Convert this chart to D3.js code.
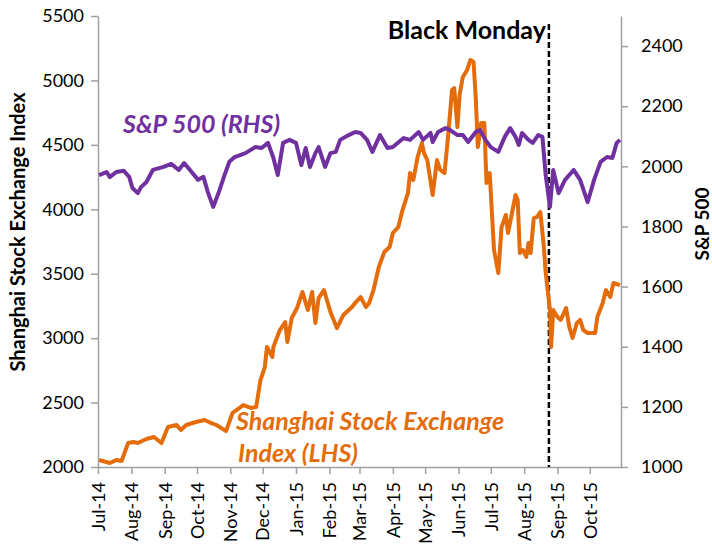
<!DOCTYPE html>
<html>
<head>
<meta charset="utf-8">
<script src="https://cdn.jsdelivr.net/npm/d3@7"></script>
<style>
  body { margin: 0; background: #fff; }
  text { font-family: Lato, "Noto Sans", sans-serif; }
</style>
</head>
<body>
<svg id="chart" width="712" height="545"></svg>
<script>
// S&P 500 (right axis)
const spDates = ["2014-07-02","2014-07-09","2014-07-12","2014-07-18","2014-07-25","2014-07-30","2014-08-02","2014-08-07",
  "2014-08-10","2014-08-15","2014-08-21","2014-08-31","2014-09-07","2014-09-14","2014-09-19","2014-09-26","2014-10-02",
  "2014-10-07","2014-10-11","2014-10-16","2014-10-21","2014-10-26","2014-10-31","2014-11-05","2014-11-15","2014-11-24",
  "2014-11-30","2014-12-06","2014-12-11","2014-12-15","2014-12-20","2014-12-26","2015-01-01","2015-01-06","2015-01-10",
  "2015-01-14","2015-01-19","2015-01-22","2015-01-28","2015-02-02","2015-02-07","2015-02-11","2015-02-19","2015-02-25",
  "2015-03-02","2015-03-08","2015-03-13","2015-03-20","2015-03-27","2015-04-01","2015-04-11","2015-04-17","2015-04-25",
  "2015-04-29","2015-05-06","2015-05-08","2015-05-13","2015-05-20","2015-05-24","2015-05-31","2015-06-05","2015-06-10",
  "2015-06-17","2015-06-21","2015-06-26","2015-07-01","2015-07-08","2015-07-14","2015-07-19","2015-07-24","2015-07-27",
  "2015-07-30","2015-08-05","2015-08-09","2015-08-14","2015-08-18","2015-08-21","2015-08-25","2015-08-28","2015-09-02",
  "2015-09-08","2015-09-16","2015-09-22","2015-09-29","2015-10-05","2015-10-11","2015-10-17","2015-10-22","2015-10-26",
  "2015-10-29"];
const spValues = [1971,1981,1964,1981,1985,1965,1928,1911,
  1931,1948,1988,1998,2008,1988,2011,1981,1955,
  1965,1915,1865,1911,1965,2015,2031,2044,2064,
  2061,2078,2028,1971,2078,2088,2078,2004,2061,
  1998,2044,2064,1998,2044,2048,2088,2104,2114,
  2111,2088,2048,2104,2061,2064,2094,2088,2114,
  2088,2111,2081,2114,2127,2121,2104,2104,2081,
  2114,2121,2088,2064,2048,2098,2127,2098,2071,
  2111,2088,2078,2104,2098,1971,1865,1988,1911,
  1955,1988,1955,1881,1955,2015,2031,2028,2078,
  2088];

// Shanghai Stock Exchange Index (left axis)
const shDates = ["2014-07-02","2014-07-12","2014-07-18","2014-07-23","2014-07-29","2014-08-03","2014-08-07","2014-08-15",
  "2014-08-22","2014-08-29","2014-09-04","2014-09-12","2014-09-16","2014-09-21","2014-09-30","2014-10-08","2014-10-12",
  "2014-10-19","2014-10-28","2014-11-03","2014-11-13","2014-11-20","2014-11-25","2014-11-29","2014-12-03","2014-12-05",
  "2014-12-10","2014-12-11","2014-12-17","2014-12-22","2014-12-24","2014-12-28","2015-01-02","2015-01-07","2015-01-12",
  "2015-01-16","2015-01-19","2015-01-22","2015-01-27","2015-02-02","2015-02-08","2015-02-14","2015-02-22","2015-02-25",
  "2015-03-02","2015-03-07","2015-03-10","2015-03-14","2015-03-19","2015-03-24","2015-03-29","2015-04-01","2015-04-06",
  "2015-04-10","2015-04-15","2015-04-17","2015-04-20","2015-04-24","2015-04-28","2015-04-30","2015-05-03","2015-05-08",
  "2015-05-12","2015-05-15","2015-05-19","2015-05-22","2015-05-26","2015-05-28","2015-05-31","2015-06-02","2015-06-05",
  "2015-06-09","2015-06-12","2015-06-15","2015-06-17","2015-06-19","2015-06-22","2015-06-25","2015-06-27","2015-06-30",
  "2015-07-04","2015-07-08","2015-07-11","2015-07-15","2015-07-17","2015-07-20","2015-07-24","2015-07-26","2015-07-28",
  "2015-07-31","2015-08-03","2015-08-05","2015-08-07","2015-08-10","2015-08-13","2015-08-16","2015-08-19","2015-08-21",
  "2015-08-25","2015-08-26","2015-08-28","2015-09-01","2015-09-04","2015-09-09","2015-09-12","2015-09-15","2015-09-19",
  "2015-09-22","2015-09-25","2015-09-29","2015-10-06","2015-10-08","2015-10-13","2015-10-16","2015-10-20","2015-10-23",
  "2015-10-29"];
const shValues = [2054,2031,2054,2047,2186,2194,2186,2217,
  2233,2186,2310,2326,2287,2326,2349,2365,2349,
  2326,2279,2419,2481,2458,2466,2675,2776,2931,
  2854,2931,3063,3125,2970,3156,3234,3358,3218,
  3358,3117,3311,3373,3203,3078,3179,3241,3273,
  3319,3241,3273,3373,3552,3668,3707,3816,3862,
  3994,4126,4281,4227,4405,4514,4436,4382,4111,
  4382,4305,4281,4538,4926,4941,4638,4887,5027,
  5081,5158,5143,4871,4483,4669,4669,4204,4281,
  3684,3505,3862,3956,3816,3940,4111,4072,3661,
  3684,3630,3738,3661,3932,3940,3979,3738,3513,
  3218,2931,3218,3164,3141,3234,3086,3001,3117,
  3141,3063,3040,3040,3164,3273,3373,3319,3428,
  3412];

const leftTicks = [2000, 2500, 3000, 3500, 4000, 4500, 5000, 5500];
const rightTicks = [1000, 1200, 1400, 1600, 1800, 2000, 2200, 2400];
const monthTicks = ["2014-07-01","2014-08-01","2014-09-01","2014-10-01","2014-11-01","2014-12-01","2015-01-01",
  "2015-02-01","2015-03-01","2015-04-01","2015-05-01","2015-06-01","2015-07-01","2015-08-01","2015-09-01","2015-10-01"];
const blackMonday = "2015-08-24";

const parse = d3.timeParse("%Y-%m-%d");
const svg = d3.select("#chart");

const plotLeft = 98, plotRight = 621, plotTop = 16, plotBottom = 467;
const axisColor = "#a0a0a0";

const x = d3.scaleTime()
  .domain([parse("2014-07-01"), parse("2015-10-30")])
  .range([plotLeft, plotRight]);
const yL = d3.scaleLinear().domain([2000, 5500]).range([plotBottom, plotTop]);
const yR = d3.scaleLinear().domain([1000, 2500]).range([plotBottom, plotTop]);

function styleAxis(g) {
  g.select(".domain").attr("stroke", axisColor).attr("stroke-width", 1.5);
  g.selectAll(".tick line").attr("stroke", axisColor).attr("stroke-width", 1.5);
  g.selectAll(".tick text").attr("fill", "#000").style("font-size", "18px")
    .style("font-family", "Lato, sans-serif");
}

// left axis
svg.append("g")
  .attr("transform", "translate(" + plotLeft + ",0)")
  .call(d3.axisLeft(yL).tickValues(leftTicks).tickFormat(d3.format("d"))
    .tickSize(7).tickSizeOuter(0).tickPadding(7))
  .call(styleAxis);

// right axis
svg.append("g")
  .attr("transform", "translate(" + plotRight + ",0)")
  .call(d3.axisRight(yR).tickValues(rightTicks).tickFormat(d3.format("d"))
    .tickSize(7).tickSizeOuter(0).tickPadding(13))
  .call(styleAxis);

// bottom axis
const xAxis = svg.append("g")
  .attr("transform", "translate(0," + plotBottom + ")")
  .call(d3.axisBottom(x).tickValues(monthTicks.map(parse))
    .tickFormat(d3.timeFormat("%b-%y")).tickSize(7).tickSizeOuter(0))
  .call(styleAxis);
xAxis.selectAll(".tick text")
  .attr("transform", "rotate(-90)")
  .attr("x", -15)
  .attr("y", 0)
  .attr("dy", "0.35em")
  .attr("text-anchor", "end");

// axis titles
svg.append("text")
  .attr("transform", "translate(25,232) rotate(-90)")
  .attr("text-anchor", "middle")
  .style("font-size", "20px").style("font-weight", "bold")
  .text("Shanghai Stock Exchange Index");

svg.append("text")
  .attr("transform", "translate(709,224) rotate(-90)")
  .attr("text-anchor", "middle")
  .style("font-size", "19px").style("font-weight", "bold")
  .text("S&P 500");

// Black Monday marker
const bm = x(parse(blackMonday));
svg.append("line")
  .attr("x1", bm).attr("x2", bm)
  .attr("y1", 24).attr("y2", plotBottom)
  .attr("stroke", "#000").attr("stroke-width", 2.5)
  .attr("stroke-dasharray", "6,3");

svg.append("text")
  .attr("x", bm - 3).attr("y", 39)
  .attr("text-anchor", "end")
  .style("font-size", "25px").style("font-weight", "bold")
  .text("Black Monday");

// series lines
const shData = shDates.map((d, i) => ({date: parse(d), value: shValues[i]}));
const spData = spDates.map((d, i) => ({date: parse(d), value: spValues[i]}));

svg.append("path")
  .datum(shData)
  .attr("fill", "none")
  .attr("stroke", "#e46c0a")
  .attr("stroke-width", 4)
  .attr("stroke-linejoin", "round")
  .attr("d", d3.line().x(d => x(d.date)).y(d => yL(d.value)));

svg.append("path")
  .datum(spData)
  .attr("fill", "none")
  .attr("stroke", "#7030a0")
  .attr("stroke-width", 4)
  .attr("stroke-linejoin", "round")
  .attr("d", d3.line().x(d => x(d.date)).y(d => yR(d.value)));

// series labels
svg.append("text")
  .attr("x", 123).attr("y", 133)
  .attr("fill", "#7030a0")
  .style("font-size", "25px").style("font-weight", "bold").style("font-style", "italic")
  .text("S&P 500 (RHS)");

const shLabel = svg.append("text")
  .attr("fill", "#e46c0a")
  .style("font-size", "25px").style("font-weight", "bold").style("font-style", "italic");
shLabel.append("tspan").attr("x", 236).attr("y", 430).text("Shanghai Stock Exchange");
shLabel.append("tspan").attr("x", 238).attr("y", 462).text("Index (LHS)");
</script>
</body>
</html>
